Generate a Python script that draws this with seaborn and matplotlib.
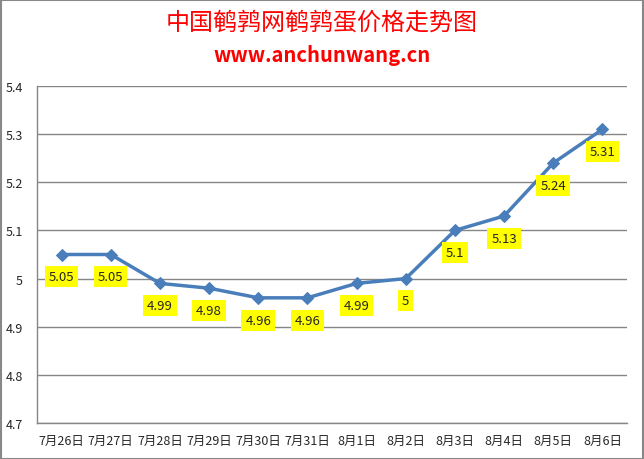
import pandas as pd
import numpy as np
import matplotlib.pyplot as plt
import seaborn as sns
from matplotlib.ticker import FuncFormatter

# Data
dates = ["7月26日", "7月27日", "7月28日", "7月29日", "7月30日", "7月31日",
         "8月1日", "8月2日", "8月3日", "8月4日", "8月5日", "8月6日"]
prices = [5.05, 5.05, 4.99, 4.98, 4.96, 4.96, 4.99, 5.0, 5.1, 5.13, 5.24, 5.31]
yticks = [4.7, 4.8, 4.9, 5.0, 5.1, 5.2, 5.3, 5.4]

sns.set_style("white")
plt.rcParams['font.family'] = ['Noto Sans CJK SC', 'DejaVu Sans']

df = pd.DataFrame({"date": dates, "price": prices, "pos": np.arange(len(dates))})

fig = plt.figure(figsize=(6.44, 4.60), dpi=100)
ax = fig.add_axes([37 / 644, 1 - 424 / 460, 590 / 644, 337 / 460])

sns.lineplot(data=df, x="pos", y="price", ax=ax, color="#4a7ebb", linewidth=2.5,
             marker="D", markersize=6.5, markeredgecolor="#4a7ebb")

# value labels in yellow boxes below the points
for i, v in enumerate(prices):
    ax.annotate(f"{v:g}", (i, v), xytext=(0, -16), textcoords="offset points",
                ha="center", va="center", fontsize=9.5,
                bbox=dict(boxstyle="square,pad=0.3", fc="#ffff00", ec="none"))

ax.set_xlim(-0.5, len(dates) - 0.5)
ax.set_ylim(4.7, 5.4)
ax.set_xticks(df["pos"])
ax.set_xticklabels(dates, fontsize=9)
ax.set_yticks(yticks)
ax.yaxis.set_major_formatter(FuncFormatter(lambda v, p: f"{v:g}"))
ax.tick_params(axis="y", labelsize=9, length=0, pad=10)
ax.tick_params(axis="x", length=0, pad=8)
ax.set_xlabel("")
ax.set_ylabel("")
ax.grid(axis="y", color="#868686", linewidth=1)
for s in ["top", "right"]:
    ax.spines[s].set_visible(False)
for s in ["left", "bottom"]:
    ax.spines[s].set_color("#868686")
    ax.spines[s].set_linewidth(1)

fig.text(0.5, 1 - 23 / 460, "中国鹌鹑网鹌鹑蛋价格走势图", ha="center", va="center",
         color="#ff0000", fontsize=17.3)
fig.text(0.5, 1 - 56 / 460, "www.anchunwang.cn", ha="center", va="center",
         color="#ff0000", fontsize=14.5, fontweight="bold")

# outer border
fig.patches.append(plt.Rectangle((0.001, 0.001), 0.997, 0.997, transform=fig.transFigure,
                                 fill=False, edgecolor="#888888", linewidth=1.5))

fig.savefig("out.png", dpi=100)
